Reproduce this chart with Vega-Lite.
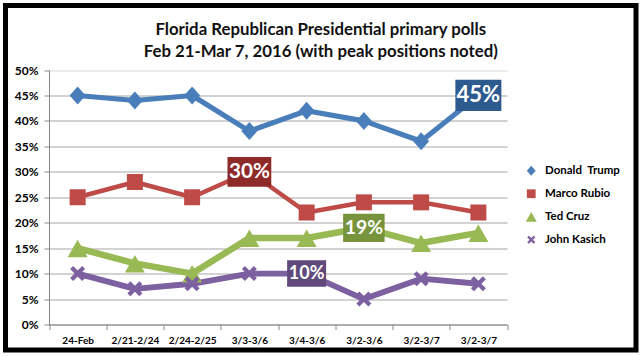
{
  "$schema": "https://vega.github.io/schema/vega-lite/v6.json",
  "autosize": "none",
  "padding": {"left": 5.5, "top": 5.5, "right": 4, "bottom": 6},
  "width": 630.5,
  "height": 344.5,
  "background": "#ffffff",
  "config": {
    "view": {"stroke": "#000000", "strokeWidth": 5, "fill": "#ffffff"},
    "font": "Lato"
  },
  "title": {
    "text": ["Florida Republican Presidential primary polls", "Feb 21-Mar 7, 2016 (with peak positions noted)"],
    "frame": "group", "anchor": "middle", "orient": "top", "offset": -55,
    "font": "Lato", "fontSize": 16.8, "fontWeight": "bold", "color": "#111111", "lineHeight": 22
  },
  "datasets": {
    "polls": [
      {"i": 0, "name": "Donald \u00a0Trump", "v": 0.45}, {"i": 1, "name": "Donald \u00a0Trump", "v": 0.44},
      {"i": 2, "name": "Donald \u00a0Trump", "v": 0.45}, {"i": 3, "name": "Donald \u00a0Trump", "v": 0.38},
      {"i": 4, "name": "Donald \u00a0Trump", "v": 0.42}, {"i": 5, "name": "Donald \u00a0Trump", "v": 0.40},
      {"i": 6, "name": "Donald \u00a0Trump", "v": 0.36}, {"i": 7, "name": "Donald \u00a0Trump", "v": 0.45},
      {"i": 0, "name": "Marco Rubio", "v": 0.25}, {"i": 1, "name": "Marco Rubio", "v": 0.28},
      {"i": 2, "name": "Marco Rubio", "v": 0.25}, {"i": 3, "name": "Marco Rubio", "v": 0.30},
      {"i": 4, "name": "Marco Rubio", "v": 0.22}, {"i": 5, "name": "Marco Rubio", "v": 0.24},
      {"i": 6, "name": "Marco Rubio", "v": 0.24}, {"i": 7, "name": "Marco Rubio", "v": 0.22},
      {"i": 0, "name": "Ted Cruz", "v": 0.15}, {"i": 1, "name": "Ted Cruz", "v": 0.12},
      {"i": 2, "name": "Ted Cruz", "v": 0.10}, {"i": 3, "name": "Ted Cruz", "v": 0.17},
      {"i": 4, "name": "Ted Cruz", "v": 0.17}, {"i": 5, "name": "Ted Cruz", "v": 0.19},
      {"i": 6, "name": "Ted Cruz", "v": 0.16}, {"i": 7, "name": "Ted Cruz", "v": 0.18},
      {"i": 0, "name": "John Kasich", "v": 0.10}, {"i": 1, "name": "John Kasich", "v": 0.07},
      {"i": 2, "name": "John Kasich", "v": 0.08}, {"i": 3, "name": "John Kasich", "v": 0.10},
      {"i": 4, "name": "John Kasich", "v": 0.10}, {"i": 5, "name": "John Kasich", "v": 0.05},
      {"i": 6, "name": "John Kasich", "v": 0.09}, {"i": 7, "name": "John Kasich", "v": 0.08}
    ],
    "peaks": [
      {"i": 7, "name": "Donald \u00a0Trump", "v": 0.45, "label": "45%"},
      {"i": 3, "name": "Marco Rubio", "v": 0.30, "label": "30%"},
      {"i": 5, "name": "Ted Cruz", "v": 0.19, "label": "19%"},
      {"i": 4, "name": "John Kasich", "v": 0.10, "label": "10%"}
    ]
  },
  "encoding": {
    "x": {
      "field": "i", "type": "ordinal",
      "scale": {"type": "band", "range": [43.5, 501.5], "paddingInner": 0, "paddingOuter": 0},
      "axis": {
        "title": null, "offset": -25.5, "labelAngle": 0, "tickBand": "extent",
        "labelExpr": "['24-Feb','2/21-2/24','2/24-2/25','3/3-3/6','3/4-3/6','3/2-3/6','3/2-3/7','3/2-3/7'][datum.value]",
        "labelFont": "Lato", "labelFontSize": 10, "labelFontWeight": "bold", "labelColor": "#000000",
        "labelPadding": 6, "domainColor": "#888888", "tickColor": "#888888", "tickSize": 5, "grid": false
      }
    },
    "y": {
      "field": "v", "type": "quantitative",
      "scale": {"domain": [0, 0.5], "range": [319, 64.5], "nice": false},
      "axis": {
        "title": null, "offset": -43.5, "format": ".0%",
        "values": [0, 0.05, 0.1, 0.15, 0.2, 0.25, 0.3, 0.35, 0.4, 0.45, 0.5],
        "labelFont": "Lato", "labelFontSize": 12, "labelFontWeight": "bold", "labelColor": "#000000",
        "labelPadding": 6, "domainColor": "#888888", "tickColor": "#888888", "tickSize": 5,
        "grid": true,
        "gridColor": {"condition": {"test": "datum.value >= 0.5", "value": "#d9d9d9"}, "value": "#a6a6a6"},
        "gridWidth": 1
      }
    }
  },
  "layer": [
    {
      "data": {"name": "polls"},
      "mark": {"type": "line", "strokeJoin": "round", "strokeCap": "round"},
      "encoding": {
        "stroke": {"field": "name", "type": "nominal",
          "scale": {"domain": ["John Kasich", "Ted Cruz", "Marco Rubio", "Donald \u00a0Trump"],
                    "range": ["#7d60a0", "#98b954", "#be4b48", "#4a7ebb"]},
          "legend": null},
        "strokeWidth": {"field": "name", "type": "nominal",
          "scale": {"domain": ["Ted Cruz", "John Kasich", "Donald \u00a0Trump", "Marco Rubio"], "range": [6.5, 4.5, 8, 6.5]},
          "legend": null}
      }
    },
    {
      "data": {"name": "polls"},
      "mark": {"type": "point", "filled": true, "opacity": 1, "size": 400},
      "encoding": {
        "color": {"field": "name", "type": "nominal",
          "scale": {"domain": ["Donald \u00a0Trump", "Marco Rubio", "Ted Cruz", "John Kasich"],
                    "range": ["#4a7ebb", "#be4b48", "#98b954", "#7d60a0"]},
          "legend": {"orient": "none", "legendX": 520, "legendY": 159.5, "title": null,
            "labelFont": "Lato", "labelFontSize": 11.5, "labelFontWeight": "bold", "labelColor": "#000000",
            "symbolSize": 120, "symbolStrokeWidth": 0, "rowPadding": 10, "labelOffset": 8, "padding": 0}},
        "shape": {"field": "name", "type": "nominal",
          "scale": {"domain": ["Donald \u00a0Trump", "Marco Rubio", "Ted Cruz", "John Kasich"],
                    "range": ["M0,-0.9L0.8,0L0,0.9L-0.8,0Z", "M-0.8,-0.8H0.8V0.8H-0.8Z", "M0,-0.85L1,0.9L-1,0.9Z", "M-0.75,-0.45L-0.45,-0.75L0,-0.3L0.45,-0.75L0.75,-0.45L0.3,0L0.75,0.45L0.45,0.75L0,0.3L-0.45,0.75L-0.75,0.45L-0.3,0Z"]},
          "legend": {"orient": "none", "legendX": 520, "legendY": 159.5, "title": null,
            "labelFont": "Lato", "labelFontSize": 11.5, "labelFontWeight": "bold", "labelColor": "#000000",
            "symbolSize": 120, "symbolStrokeWidth": 0, "rowPadding": 10, "labelOffset": 8, "padding": 0}}
      }
    },
    {
      "data": {"name": "peaks"},
      "mark": {"type": "point", "filled": true, "opacity": 1, "shape": "M-1,-0.68H1V0.68H-1Z"},
      "encoding": {
        "fill": {"field": "label", "type": "nominal",
          "scale": {"domain": ["45%", "30%", "19%", "10%"],
                    "range": ["#2d5b8f", "#8e2a28", "#77933c", "#5f4a7b"]}, "legend": null},
        "size": {"field": "label", "type": "nominal",
          "scale": {"domain": ["45%", "30%", "19%", "10%"], "range": [2116, 1521, 1369, 1089]},
          "legend": null}
      }
    },
    {
      "data": {"name": "peaks"},
      "mark": {"type": "text", "color": "#ffffff", "fontWeight": "bold", "font": "Lato", "baseline": "middle", "align": "center"},
      "encoding": {
        "text": {"field": "label"},
        "size": {"field": "label", "type": "nominal",
          "scale": {"domain": ["45%", "30%", "19%", "10%"], "range": [22, 18, 17, 15]},
          "legend": null}
      }
    }
  ],
  "resolve": {"scale": {"size": "independent"}}
}
